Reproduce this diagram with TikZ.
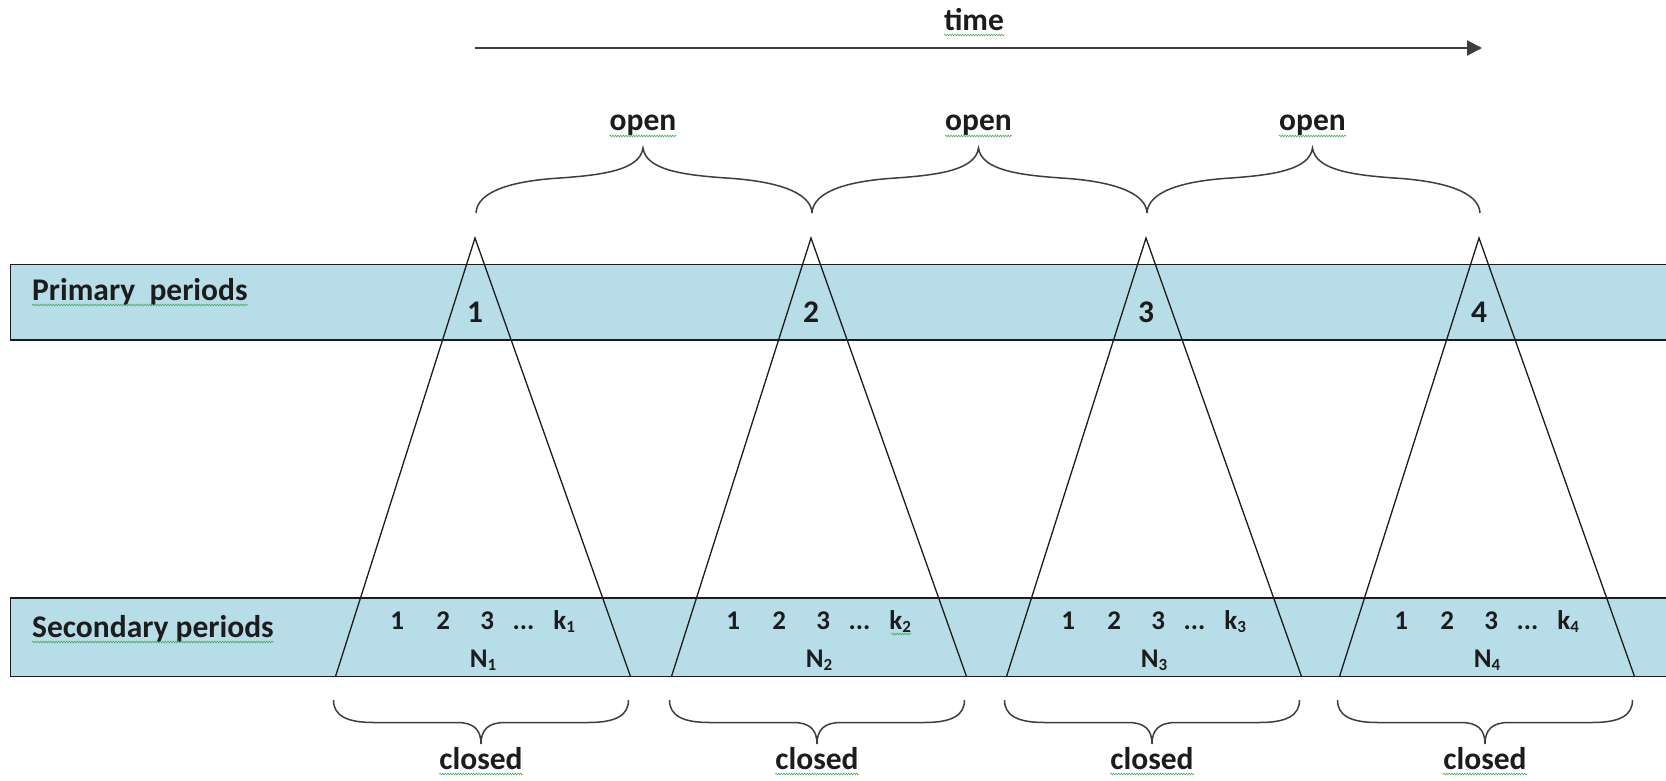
\documentclass[tikz,border=0pt]{standalone}
\usepackage{fontspec}
\setmainfont{Carlito}
\usetikzlibrary{arrows.meta,decorations.pathmorphing}
\definecolor{bandblue}{RGB}{183,221,232}
\definecolor{ink}{RGB}{28,28,28}
\definecolor{squig}{RGB}{70,170,95}
% small lowered index digit (k_1, N_1, ...)
\newcommand\lowidx[1]{\raisebox{-3pt}{\fontsize{17}{17}\selectfont #1}}

\begin{document}
\begin{tikzpicture}[x=1pt,y=-1pt,
  lbl/.style={font=\fontsize{31.5}{31.5}\selectfont\bfseries, inner sep=0pt, text=ink},
  num/.style={font=\fontsize{27}{27}\selectfont\bfseries, inner sep=0pt, text=ink},
  band/.style={fill=bandblue, draw=ink, line width=1.6pt},
  edge/.style={draw=ink, line width=1.3pt},
  brace/.style={draw=ink!85, line width=1.5pt},
  spell/.style={draw=squig, line width=0.55pt, decorate,
    decoration={snake, segment length=2.6pt, amplitude=0.9pt}},
]
\useasboundingbox (0,0) rectangle (1666,781);
\fill[white] (0,0) rectangle (1666,781);

% the two period bands (they run off the right edge)
\draw[band] (10.5,264.5) rectangle (1690,340);
\draw[band] (10.5,598) rectangle (1690,676.5);

\node[lbl, anchor=base west] (prim) at (32,300) {Primary\ \ periods};
\node[lbl, anchor=base west] (sec) at (32,637) {Secondary periods};
\draw[spell] ([yshift=-5pt]prim.base west) -- ([yshift=-5pt]prim.base east);
\draw[spell] ([yshift=-5pt]sec.base west) -- ([yshift=-5pt]sec.base east);

% time axis
\coordinate (t0) at (475,48);
\coordinate (t1) at (1482,48);
\draw[line width=2.2pt, draw=ink!85, -{Triangle[length=15pt,width=15pt]}] (t0) -- (t1);
\node[lbl, anchor=base] (time) at (974,31) {time};
\draw[spell] ([yshift=-4pt]time.base west) -- ([yshift=-4pt]time.base east);

% triangles: one primary period opening onto its secondary periods
\foreach \i/\a in {1/475,2/811,3/1146,4/1479} {
  \pgfmathsetmacro\c{\a+8}
  \coordinate (apex\i) at (\a,238);
  \coordinate (bl\i) at (\a-139.5,676.5);
  \coordinate (br\i) at (\a+155.5,676.5);
  \draw[edge] (bl\i) -- (apex\i) -- (br\i);
  \node[lbl, anchor=base] (p\i) at (\a,322) {\i};
  \node[num, anchor=base west] (k\i) at (\c-92.85,629)
    {1\hspace{32.3pt}2\hspace{30.3pt}3\hspace{18.7pt}...\hspace{19pt}k\lowidx{\i}};
  \node[num, anchor=base] (n\i) at (\c,667) {N\lowidx{\i}};
}
\draw[spell] ([xshift=-20pt,yshift=-5pt]k2.base east) -- ([yshift=-5pt]k2.base east);

% open braces between consecutive primary periods
\foreach \i/\a/\b in {1/475/811,2/811/1146,3/1146/1479} {
  \pgfmathsetmacro\m{(\a+\b)/2}
  \draw[brace] (\a+1,213) .. controls (\a+2,192) and (\a+35,181) .. (\a+85,178)
     .. controls (\m-40,175) and (\m-3,170) .. (\m,148)
     .. controls (\m+3,170) and (\m+40,175) .. (\b-85,178)
     .. controls (\b-35,181) and (\b,192) .. (\b+1,213);
  \node[lbl, anchor=base] (open\i) at (\m,131) {open};
  \draw[spell] ([yshift=-5pt]open\i.base west) -- ([yshift=-5pt]open\i.base east);
}

% closed braces under each group of secondary periods
\foreach \i/\a in {1/475,2/811,3/1146,4/1479} {
  \pgfmathsetmacro\xa{\a-141.5}
  \pgfmathsetmacro\xb{\a+153.5}
  \pgfmathsetmacro\m{\a+6}
  \draw[brace] (\xa,700) .. controls (\xa,715) and (\xa+12,722.5) .. (\xa+40,722.5)
     -- (\m-24,722.5) .. controls (\m-8,722.5) and (\m,729) .. (\m,744)
     .. controls (\m,729) and (\m+8,722.5) .. (\m+24,722.5)
     -- (\xb-40,722.5) .. controls (\xb-12,722.5) and (\xb,715) .. (\xb,700);
  \node[lbl, anchor=base] (closed\i) at (\m,769) {closed};
  \draw[spell] ([yshift=-5pt]closed\i.base west) -- ([yshift=-5pt]closed\i.base east);
}
\end{tikzpicture}
\end{document}
